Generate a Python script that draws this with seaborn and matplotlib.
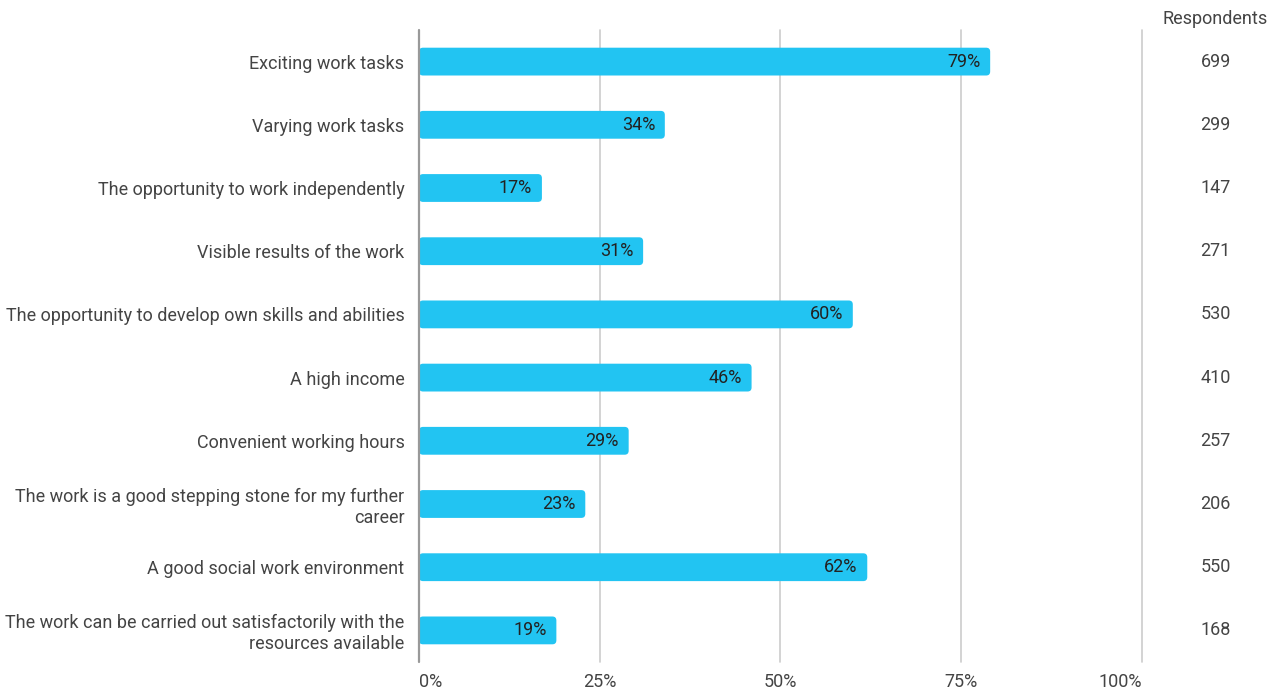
import matplotlib
matplotlib.use("Agg")
import matplotlib.pyplot as plt
from matplotlib.patches import FancyBboxPatch
import seaborn as sns
import pandas as pd

categories = [
    "Exciting work tasks",
    "Varying work tasks",
    "The opportunity to work independently",
    "Visible results of the work",
    "The opportunity to develop own skills and abilities",
    "A high income",
    "Convenient working hours",
    "The work is a good stepping stone for my further\ncareer",
    "A good social work environment",
    "The work can be carried out satisfactorily with the\nresources available",
]
shares = [79, 34, 17, 31, 60, 46, 29, 23, 62, 19]
respondents = [699, 299, 147, 271, 530, 410, 257, 206, 550, 168]
x_ticks = [0, 25, 50, 75, 100]
x_tick_labels = ["0%", "25%", "50%", "75%", "100%"]

BAR_COLOR = "#22C4F2"
TEXT_COLOR = "#444444"
VALUE_COLOR = "#222222"
GRID_COLOR = "#CCCCCC"
FS = 13

sns.set_theme(style="white")
plt.rcParams["font.family"] = ["Roboto", "DejaVu Sans"]

df = pd.DataFrame({"category": categories, "share": shares, "n": respondents})

fig = plt.figure(figsize=(12.81, 6.89), dpi=100)
ax = fig.add_axes([419 / 1281, 1 - 662 / 689, (1142 - 419) / 1281, (662 - 30) / 689])

sns.barplot(data=df, x="share", y="category", color=BAR_COLOR, width=0.44,
            saturation=1, ax=ax, zorder=3)

# Replace the square bars with ones rounded at the ends
ax.set_xlim(0, 100)
ax.set_ylim(len(categories) - 0.5, -0.5)
px_x = 100 / (1142 - 419)
px_y = len(categories) / (662 - 30)
radius = 4 * px_x
for p in list(ax.patches):
    x0, y0 = p.get_x(), p.get_y()
    w, h = p.get_width(), p.get_height()
    rounded = FancyBboxPatch((x0, y0), w, h,
                             boxstyle=f"round,pad=0,rounding_size={radius}",
                             mutation_aspect=px_y / px_x,
                             facecolor=BAR_COLOR, edgecolor="none", zorder=3)
    p.remove()
    ax.add_patch(rounded)

for i, (v, n) in enumerate(zip(shares, respondents)):
    ax.annotate(f"{v}%", xy=(v, i), xytext=(-7, 0), textcoords="offset points",
                ha="right", va="center", fontsize=FS, color=VALUE_COLOR, zorder=4)
    ax.annotate(f"{n}", xy=(1, i), xycoords=("axes fraction", "data"),
                xytext=(53, 0), textcoords="offset points",
                ha="center", va="center", fontsize=FS, color=TEXT_COLOR)

ax.annotate("Respondents", xy=(1, 1), xycoords="axes fraction",
            xytext=(53, 8), textcoords="offset points",
            ha="center", va="center", fontsize=FS, color=TEXT_COLOR)

# Vertical gridlines
for t in x_ticks[1:]:
    ax.axvline(t, color=GRID_COLOR, lw=1.2, zorder=1, clip_on=False)
ax.axvline(0, color="#999999", lw=1.6, zorder=5, clip_on=False)

for s in ax.spines.values():
    s.set_visible(False)

ax.set_xticks(x_ticks)
ax.set_xticklabels(x_tick_labels, fontsize=FS, color=TEXT_COLOR)
labels = ax.get_xticklabels()
labels[0].set_horizontalalignment("left")
labels[-1].set_horizontalalignment("right")
ax.tick_params(axis="x", length=0, pad=8)
ax.tick_params(axis="y", length=0, pad=10.5, labelsize=FS, labelcolor=TEXT_COLOR)
for lbl in ax.get_yticklabels():
    lbl.set_multialignment("right")
    lbl.set_linespacing(1.2)

ax.set_xlabel("")
ax.set_ylabel("")

fig.savefig("out.png", dpi=100)
